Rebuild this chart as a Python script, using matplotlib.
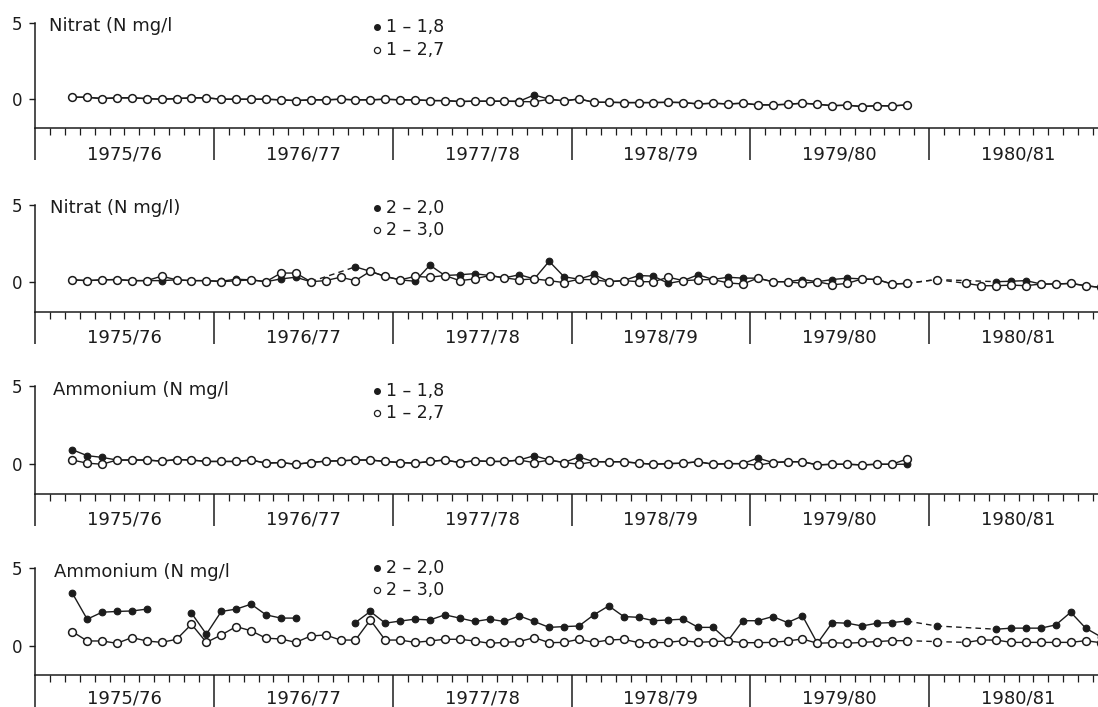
import numpy as np
import matplotlib
matplotlib.use('Agg')
import matplotlib.pyplot as plt
from matplotlib.lines import Line2D

nan = np.nan

years = ['1975/76', '1976/77', '1977/78', '1978/79', '1979/80', '1980/81']

# month index counted from the start of 1975/76, one sample per month
months_short = np.arange(2, 59)   # panels 1 and 3
months_long = np.arange(2, 72)    # panels 2 and 4

# Nitrat, station 1
nitrat_1_18 = [0.13, 0.13, 0.04, 0.09, 0.09, 0.04, 0.0, 0.04, 0.09, 0.09,
               0.0, 0.0, 0.0, 0.0, -0.04, -0.09, -0.04, -0.04, 0.0, -0.04,
               -0.04, 0.0, -0.04, -0.04, -0.09, -0.09, -0.15, -0.13, -0.13, -0.13,
               -0.13, 0.28, 0.0, -0.11, 0.02, -0.2, -0.2, -0.22, -0.22, -0.22,
               -0.2, -0.22, -0.31, -0.26, -0.31, -0.26, -0.37, -0.37, -0.33, -0.26,
               -0.33, -0.42, -0.39, -0.48, -0.42, -0.44, -0.37]
nitrat_1_27 = [0.13, 0.13, 0.04, 0.09, 0.09, 0.04, 0.0, 0.04, 0.09, 0.09,
               0.0, 0.0, 0.0, 0.0, -0.04, -0.09, -0.04, -0.04, 0.0, -0.04,
               -0.04, 0.0, -0.04, -0.04, -0.09, -0.09, -0.15, -0.13, -0.13, -0.13,
               -0.15, -0.17, 0.0, -0.11, 0.02, -0.2, -0.2, -0.22, -0.22, -0.22,
               -0.2, -0.22, -0.31, -0.26, -0.31, -0.26, -0.37, -0.37, -0.33, -0.26,
               -0.33, -0.42, -0.39, -0.48, -0.42, -0.44, -0.37]

# Nitrat, station 2
nitrat_2_20 = [0.16, 0.11, 0.16, 0.18, 0.11, 0.11, 0.11, 0.16, 0.11, 0.11,
               0.07, 0.2, 0.16, 0.04, 0.22, 0.33, 0.04, nan, nan, 1.0,
               0.71, 0.38, 0.16, 0.07, 1.11, 0.44, 0.49, 0.56, 0.44, 0.29,
               0.49, 0.22, 1.36, 0.36, 0.2, 0.51, 0.04, 0.11, 0.44, 0.4,
               -0.07, 0.11, 0.49, 0.18, 0.33, 0.27, 0.27, 0.04, 0.04, 0.18,
               0.04, 0.18, 0.27, 0.22, 0.18, -0.11, -0.07, nan, 0.18, nan,
               nan, nan, 0.04, 0.07, 0.11, -0.11, -0.11, -0.07, -0.22, -0.33]
nitrat_2_30 = [0.16, 0.11, 0.16, 0.18, 0.11, 0.11, 0.4, 0.16, 0.11, 0.11,
               0.04, 0.1, 0.16, 0.04, 0.6, 0.6, 0.04, 0.11, 0.33, 0.11,
               0.71, 0.38, 0.16, 0.38, 0.33, 0.44, 0.11, 0.22, 0.44, 0.29,
               0.16, 0.22, 0.11, -0.02, 0.2, 0.16, 0.04, 0.11, 0.04, 0.04,
               0.33, 0.11, 0.16, 0.18, -0.04, -0.11, 0.27, 0.04, 0.04, -0.07,
               0.04, -0.16, -0.07, 0.22, 0.18, -0.11, -0.07, nan, 0.18, nan,
               -0.07, -0.22, -0.22, -0.18, -0.22, -0.11, -0.11, -0.07, -0.22, -0.33]

# Ammonium, station 1
ammon_1_18 = [0.93, 0.55, 0.44, 0.27, 0.27, 0.27, 0.2, 0.3, 0.27, 0.18,
              0.18, 0.18, 0.27, 0.07, 0.11, 0.0, 0.11, 0.2, 0.22, 0.27,
              0.27, 0.18, 0.11, 0.07, 0.18, 0.27, 0.11, 0.22, 0.18, 0.18,
              0.27, 0.55, 0.27, 0.11, 0.47, 0.16, 0.16, 0.16, 0.07, 0.0,
              0.04, 0.07, 0.16, 0.0, 0.04, 0.04, 0.4, 0.11, 0.16, 0.16,
              -0.04, 0.0, 0.0, -0.04, 0.0, 0.0, 0.0]
ammon_1_27 = [0.27, 0.07, 0.0, 0.27, 0.27, 0.27, 0.2, 0.3, 0.27, 0.18,
              0.18, 0.18, 0.27, 0.07, 0.11, 0.0, 0.11, 0.2, 0.22, 0.27,
              0.27, 0.18, 0.11, 0.07, 0.18, 0.27, 0.11, 0.22, 0.18, 0.18,
              0.27, 0.1, 0.27, 0.11, 0.0, 0.16, 0.16, 0.16, 0.07, 0.0,
              0.04, 0.07, 0.16, 0.0, 0.04, 0.04, -0.07, 0.11, 0.16, 0.16,
              -0.04, 0.0, 0.0, -0.04, 0.0, 0.0, 0.33]

# Ammonium, station 2
ammon_2_20 = [3.40, 1.71, 2.16, 2.21, 2.24, 2.36, nan, nan, 2.10, 0.74,
              2.21, 2.36, 2.68, 1.99, 1.78, 1.78, nan, nan, nan, 1.49,
              2.21, 1.45, 1.59, 1.71, 1.66, 1.99, 1.78, 1.56, 1.71, 1.56,
              1.92, 1.56, 1.18, 1.23, 1.27, 1.99, 2.57, 1.88, 1.83, 1.61,
              1.66, 1.71, 1.18, 1.18, 0.32, 1.61, 1.61, 1.88, 1.49, 1.92,
              0.15, 1.49, 1.45, 1.27, 1.45, 1.49, 1.59, nan, 1.27, nan,
              nan, nan, 1.06, 1.13, 1.13, 1.13, 1.34, 2.16, 1.13, 0.58]
ammon_2_30 = [0.91, 0.30, 0.30, 0.15, 0.52, 0.30, 0.21, 0.41, 1.38, 0.21,
              0.69, 1.23, 0.96, 0.48, 0.43, 0.21, 0.62, 0.69, 0.36, 0.36,
              1.66, 0.36, 0.36, 0.21, 0.30, 0.41, 0.41, 0.30, 0.15, 0.21,
              0.26, 0.52, 0.19, 0.21, 0.41, 0.21, 0.36, 0.41, 0.19, 0.19,
              0.21, 0.32, 0.21, 0.26, 0.30, 0.19, 0.19, 0.21, 0.30, 0.43,
              0.15, 0.19, 0.15, 0.21, 0.26, 0.32, 0.32, nan, 0.26, nan,
              0.21, 0.36, 0.36, 0.21, 0.21, 0.21, 0.21, 0.21, 0.32, 0.19]

panels = [
    dict(title='Nitrat (N mg/l', months=months_short,
         filled=nitrat_1_18, opened=nitrat_1_27,
         labels=('1 \u2013 1,8', '1 \u2013 2,7'), bridge_f=[], bridge_o=[]),
    dict(title='Nitrat (N mg/l)', months=months_long,
         filled=nitrat_2_20, opened=nitrat_2_30,
         labels=('2 \u2013 2,0', '2 \u2013 3,0'), bridge_f=[18, 58, 60], bridge_o=[58, 60]),
    dict(title='Ammonium (N mg/l', months=months_short,
         filled=ammon_1_18, opened=ammon_1_27,
         labels=('1 \u2013 1,8', '1 \u2013 2,7'), bridge_f=[], bridge_o=[]),
    dict(title='Ammonium (N mg/l', months=months_long,
         filled=ammon_2_20, opened=ammon_2_30,
         labels=('2 \u2013 2,0', '2 \u2013 3,0'), bridge_f=[58, 60], bridge_o=[58, 60]),
]

# pixel layout: (top of y axis at 5, x-axis line), title pos, legend rows
W, H = 1098, 707
boxes = [(22.7, 128.3), (205, 311.7), (386, 494), (568.3, 675)]
year_offset = [19.2, 18.4, 18.4, 16.6]   # points below the axis line
title_pos = [(49, 26), (50, 208.3), (52.6, 390), (54, 571.7)]
legend_rows = [(26.7, 50), (208.3, 230), (390.7, 413.3), (568.3, 590)]
ink = '#1c1c1c'
plt.rcParams['font.family'] = ['DejaVu Sans']

fig = plt.figure(figsize=(W / 100, H / 100), dpi=100)
x_left, x_right = 35, 1098
months_per_px = 72 / (1108 - 35)


def draw_series(ax, months, vals, filled, bridge):
    y = np.asarray(vals, dtype=float)
    x = months + 0.5
    ok = ~np.isnan(y)
    ax.plot(x, y, '-', color=ink, lw=1.0, zorder=2, clip_on=False)
    idx = np.where(ok)[0]
    for a, b in zip(idx[:-1], idx[1:]):
        if b - a > 1 and months[a] in bridge:
            ax.plot([x[a], x[b]], [y[a], y[b]], color=ink, lw=1.0,
                    ls=(0, (4, 3)), zorder=2, clip_on=False)
    if filled:
        ax.plot(x[ok], y[ok], 'o', ms=4.8, mfc=ink, mec=ink, mew=0.8,
                zorder=3, clip_on=False)
    else:
        ax.plot(x[ok], y[ok], 'o', ms=5.6, mfc='white', mec=ink, mew=1.1,
                zorder=4, clip_on=False)


for i, p in enumerate(panels):
    top, bot = boxes[i]
    ax = fig.add_axes([x_left / W, 1 - bot / H, (x_right - x_left) / W, (bot - top) / H])
    ax.set_xlim(0, (x_right - x_left) * months_per_px)
    ax.set_ylim(-1.9, 5)
    ax.patch.set_visible(False)
    for s in ('top', 'right'):
        ax.spines[s].set_visible(False)
    for s in ('left', 'bottom'):
        ax.spines[s].set_color(ink)
        ax.spines[s].set_linewidth(1.1)

    ax.set_yticks([0, 5])
    ax.set_yticklabels(['0', '5'], fontsize=12, color=ink)
    ax.tick_params(axis='y', direction='out', length=4, width=1.0, pad=5, colors=ink)

    ax.set_xticks(np.arange(0, 72, 12))
    ax.set_xticklabels([])
    ax.set_xticks([m for m in range(1, 72) if m % 12], minor=True)
    ax.tick_params(axis='x', which='major', direction='out', length=23, width=1.1, colors=ink)
    ax.tick_params(axis='x', which='minor', direction='out', length=5, width=0.9, colors=ink)

    for k, yr in enumerate(years):
        ax.annotate(yr, xy=(6 + 12 * k, 0), xycoords=('data', 'axes fraction'),
                    xytext=(0, -year_offset[i]), textcoords='offset points',
                    ha='center', va='center', fontsize=13, color=ink)

    draw_series(ax, p['months'], p['filled'], True, p['bridge_f'])
    draw_series(ax, p['months'], p['opened'], False, p['bridge_o'])

    tx, ty = title_pos[i]
    fig.text(tx / W, 1 - ty / H, p['title'], fontsize=13, color=ink,
             ha='left', va='center')
    r1, r2 = legend_rows[i]
    fig.add_artist(Line2D([377 / W], [1 - r1 / H], marker='o', ms=4, mfc=ink,
                          mec=ink, ls='none', transform=fig.transFigure))
    fig.add_artist(Line2D([377 / W], [1 - r2 / H], marker='o', ms=4.4, mfc='white',
                          mec=ink, mew=0.9, ls='none', transform=fig.transFigure))
    fig.text(386 / W, 1 - r1 / H, p['labels'][0], fontsize=12.5, color=ink,
             ha='left', va='center')
    fig.text(386 / W, 1 - r2 / H, p['labels'][1], fontsize=12.5, color=ink,
             ha='left', va='center')

fig.savefig('out.png', dpi=100, facecolor='white')
